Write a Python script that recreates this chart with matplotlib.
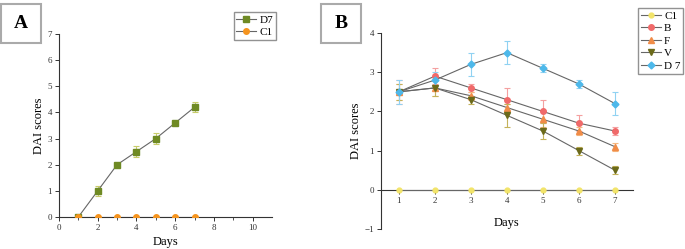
import matplotlib.pyplot as plt
from matplotlib.patches import Rectangle

plt.rcParams['font.family'] = ['Liberation Serif', 'DejaVu Serif']

days = [1, 2, 3, 4, 5, 6, 7]

# panel A
a_d7 = [0, 1.0, 2.0, 2.5, 3.0, 3.6, 4.2]
a_d7_err = [0, 0.2, 0.05, 0.2, 0.2, 0.05, 0.2]
a_c1 = [0, 0, 0, 0, 0, 0, 0]

# panel B
b_c1 = [0, 0, 0, 0, 0, 0, 0]
b_b = [2.5, 2.9, 2.6, 2.3, 2.0, 1.7, 1.5]
b_b_err = [0.3, 0.2, 0.1, 0.3, 0.3, 0.2, 0.1]
b_f = [2.5, 2.6, 2.4, 2.1, 1.8, 1.5, 1.1]
b_f_err = [0.2, 0.2, 0.1, 0.1, 0.2, 0.1, 0.1]
b_v = [2.5, 2.6, 2.3, 1.9, 1.5, 1.0, 0.5]
b_v_err = [0.2, 0.2, 0.1, 0.3, 0.2, 0.1, 0.1]
b_d7 = [2.5, 2.8, 3.2, 3.5, 3.1, 2.7, 2.2]
b_d7_err = [0.3, 0.2, 0.3, 0.3, 0.1, 0.1, 0.3]

fig = plt.figure(figsize=(6.85, 2.49), dpi=100)
line_c = '#666666'


def series(ax, y, err, mk, col, ecol, ms, label):
    if err is not None:
        ax.errorbar(days, y, yerr=err, fmt='none', ecolor=ecol, elinewidth=0.8,
                    capsize=2, capthick=0.8, zorder=2)
    ax.plot(days, y, color=line_c, lw=0.8, zorder=3)
    ax.plot(days, y, linestyle='none', marker=mk, color=col, ms=ms, zorder=4)
    # legend proxy
    ax.plot([], [], color=line_c, lw=0.8, marker=mk, mfc=col, mec=col, ms=ms, label=label)


def style(ax):
    for s in ['top', 'right']:
        ax.spines[s].set_visible(False)
    for s in ['left', 'bottom']:
        ax.spines[s].set_linewidth(0.8)
        ax.spines[s].set_color('#333333')
    ax.tick_params(direction='out', length=3, width=0.7, labelsize=6.5, pad=2, colors='#333333')
    ax.tick_params(which='minor', direction='out', length=2, width=0.6, colors='#333333')
    ax.set_ylabel('DAI scores', fontsize=9, labelpad=2)


leg_kw = dict(loc='upper left', fontsize=8, frameon=True, fancybox=False,
              edgecolor='#777777', handlelength=1.8, borderpad=0.25,
              labelspacing=0.25, handletextpad=0.3, borderaxespad=0)

# panel A
axA = fig.add_axes([0.0861, 0.1285, 0.311, 0.735])
series(axA, a_d7, a_d7_err, 's', '#6f8a24', '#c8cc6a', 4, 'D7')
series(axA, a_c1, None, 'o', '#f5941e', None, 4, 'C1')
axA.set_xlim(0, 11)
axA.set_ylim(0, 7)
axA.set_xticks([0, 2, 4, 6, 8, 10])
axA.set_xticks([1, 3, 5, 7, 9], minor=True)
axA.set_yticks(range(0, 8))
style(axA)
axA.set_xlabel('Days', fontsize=9, labelpad=3)
axA.legend(bbox_to_anchor=(0.82, 1.12), **leg_kw)

# panel B
axB = fig.add_axes([0.556, 0.0803, 0.368, 0.787])
series(axB, b_c1, None, 'o', '#f2e46a', None, 3.5, 'C1')
series(axB, b_b, b_b_err, 'o', '#f06a6a', '#f4a0a0', 4, 'B')
series(axB, b_f, b_f_err, '^', '#f08c48', '#f5b880', 4, 'F')
series(axB, b_v, b_v_err, 'v', '#6b6a1a', '#c4b25a', 4, 'V')
series(axB, b_d7, b_d7_err, 'D', '#4db8ea', '#90d2f2', 3.5, 'D 7')
axB.set_xlim(0.5, 7.5)
axB.set_ylim(-1, 4)
axB.set_xticks(days)
axB.set_yticks(range(-1, 5))
style(axB)
axB.spines['bottom'].set_position(('data', 0))
axB.set_xlabel('Days', fontsize=9, labelpad=3)
axB.xaxis.set_label_coords(0.5, 0.06)
axB.legend(bbox_to_anchor=(1.02, 1.128), **leg_kw)

# panel letters
for x0, txt in [(0.002, 'A'), (0.469, 'B')]:
    fig.patches.append(Rectangle((x0, 0.828), 0.058, 0.157, transform=fig.transFigure,
                                 fill=False, edgecolor='#aaaaaa', lw=1.5))
    fig.text(x0 + 0.029, 0.905, txt, fontsize=14, fontweight='bold', ha='center', va='center')

fig.savefig('out.png', dpi=100)
